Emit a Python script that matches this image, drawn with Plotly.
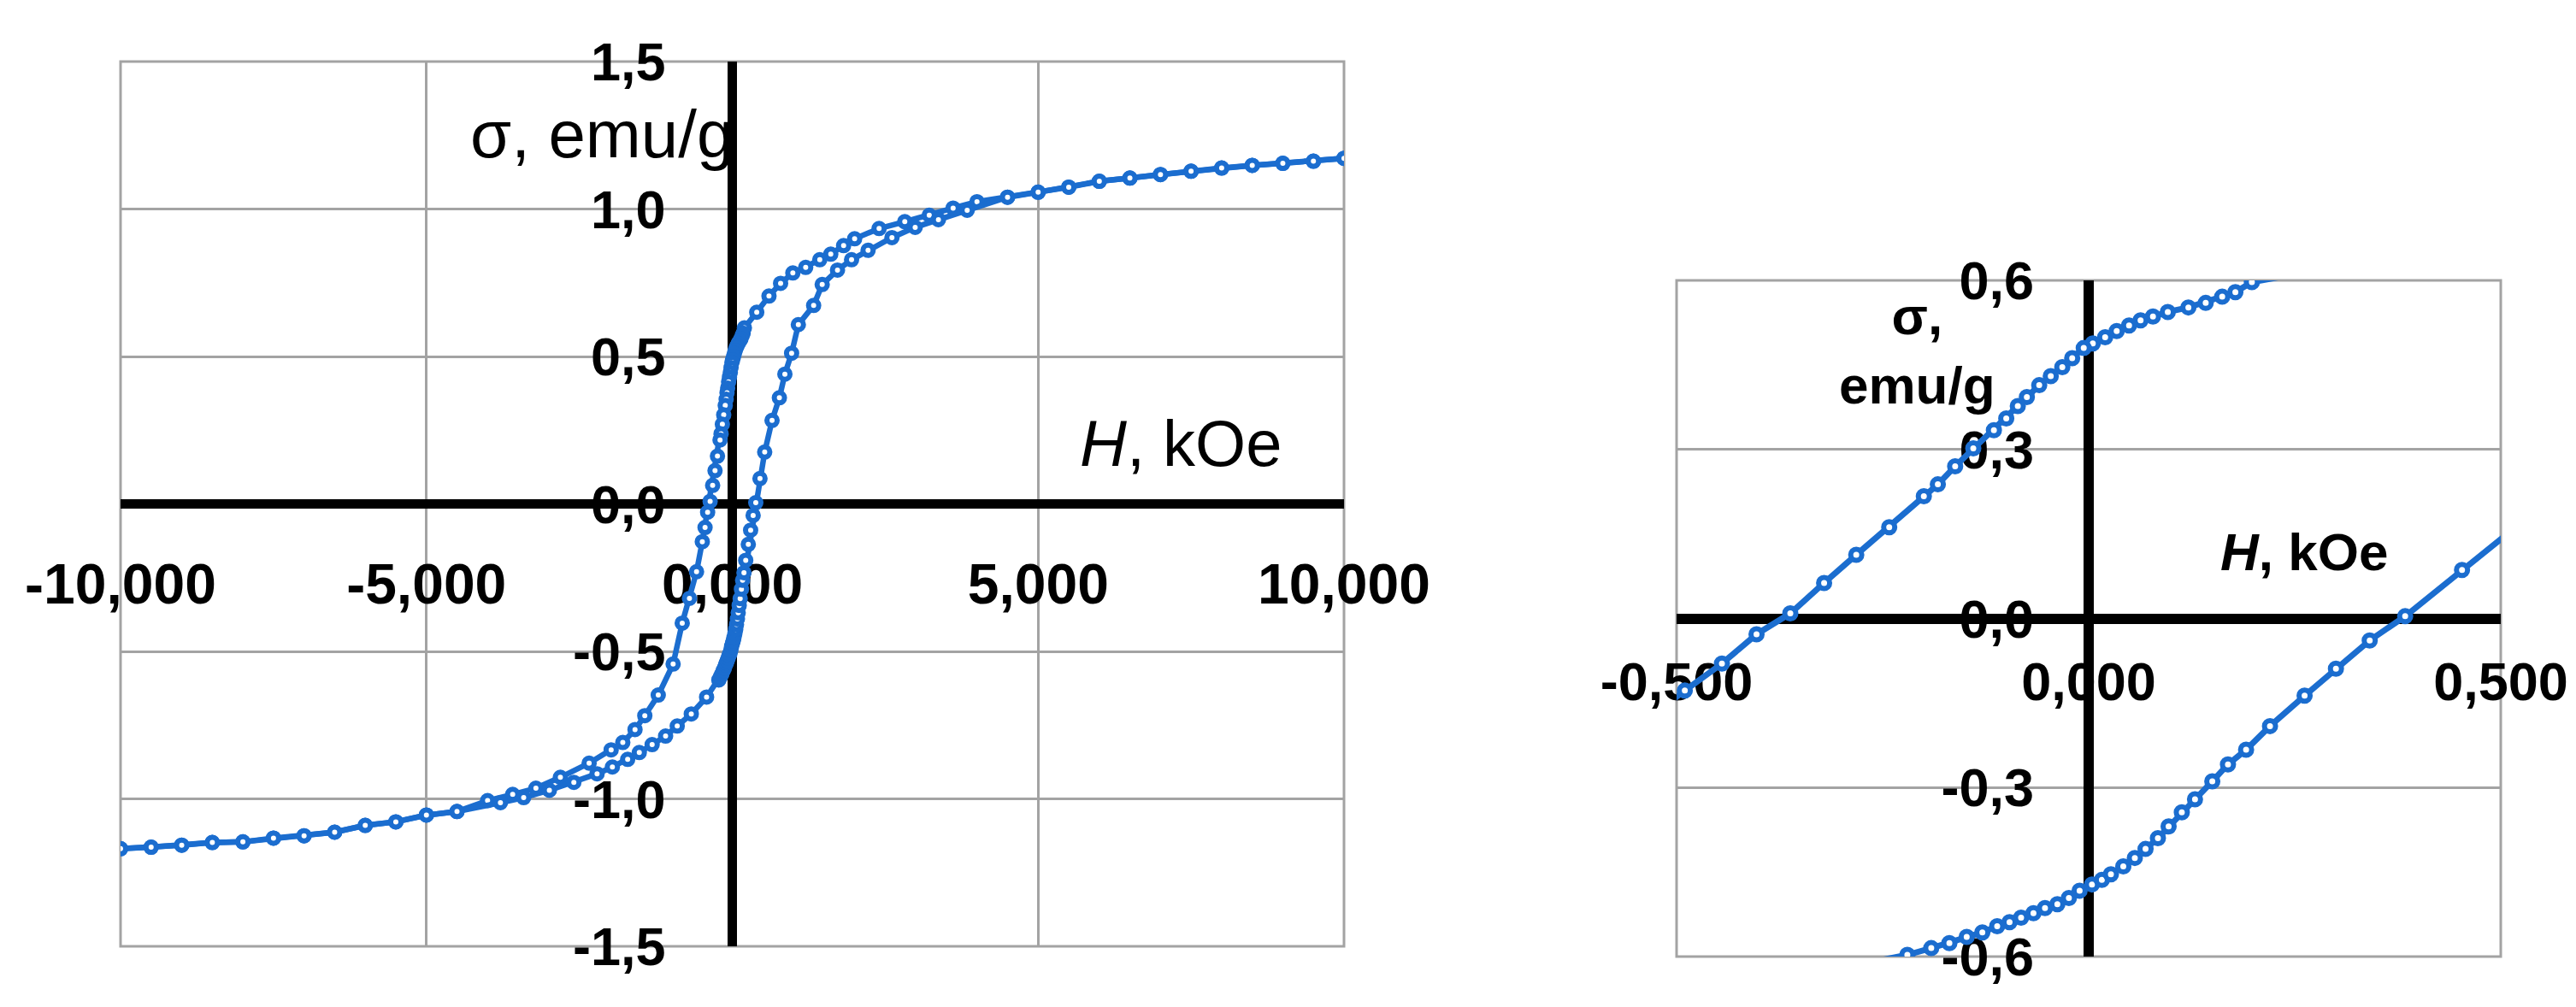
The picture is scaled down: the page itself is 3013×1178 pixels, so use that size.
import plotly.graph_objects as go

# ---------------- data (H in kOe, sigma in emu/g) ----------------
# descending field branch (+10 -> -10 kOe)
H_desc = [10.0, 9.5, 9.0, 8.5, 8.0, 7.5, 7.0, 6.5, 6.0, 5.5, 5.0, 4.5, 4.0,
          3.61, 3.22, 2.82, 2.40, 2.00, 1.82, 1.61, 1.43, 1.20, 0.99, 0.79,
          0.60, 0.40, 0.198, 0.178, 0.162, 0.142, 0.121, 0.096, 0.078, 0.063,
          0.049, 0.034, 0.020, 0.005, -0.006, -0.020, -0.032, -0.046, -0.060,
          -0.075, -0.086, -0.100, -0.115, -0.140, -0.162, -0.183, -0.200,
          -0.242, -0.282, -0.321, -0.362, -0.403, -0.445, -0.49, -0.584,
          -0.70, -0.818, -0.967, -1.21, -1.43, -1.59, -1.79, -1.98, -2.34,
          -2.81, -3.21, -3.59, -4.0, -4.5, -5.0, -5.5, -6.0, -6.5, -7.0,
          -7.5, -8.0, -8.5, -9.0, -9.5, -10.0]
S_desc = [1.172, 1.162, 1.155, 1.148, 1.139, 1.128, 1.117, 1.105, 1.094, 1.074,
          1.057, 1.040, 1.025, 1.003, 0.979, 0.957, 0.934, 0.899, 0.876, 0.847,
          0.828, 0.802, 0.783, 0.748, 0.705, 0.650, 0.597, 0.579, 0.571, 0.560,
          0.552, 0.544, 0.536, 0.529, 0.520, 0.510, 0.499, 0.488, 0.480, 0.462,
          0.446, 0.430, 0.414, 0.393, 0.377, 0.355, 0.334, 0.302, 0.270, 0.238,
          0.217, 0.162, 0.113, 0.063, 0.009, -0.028, -0.080, -0.128, -0.230,
          -0.320, -0.404, -0.543, -0.648, -0.718, -0.765, -0.809, -0.834, -0.879,
          -0.927, -0.964, -0.985, -1.006, -1.043, -1.055, -1.078, -1.090, -1.113,
          -1.125, -1.133, -1.146, -1.148, -1.157, -1.164, -1.169]

# ascending field branch (-10 -> +10 kOe)
H_asc = [-10.0, -9.5, -9.0, -8.5, -8.0, -7.5, -7.0, -6.5, -6.0, -5.5, -5.0, -4.5,
         -3.79, -3.41, -2.99, -2.59, -2.21, -1.96, -1.71, -1.52, -1.31, -1.09,
         -0.90, -0.67, -0.42, -0.220, -0.191, -0.169, -0.148, -0.129, -0.111,
         -0.096, -0.082, -0.067, -0.053, -0.038, -0.024, -0.011, 0.004, 0.016,
         0.027, 0.042, 0.056, 0.069, 0.084, 0.097, 0.113, 0.129, 0.150, 0.169,
         0.191, 0.220, 0.262, 0.300, 0.341, 0.384, 0.453, 0.53, 0.65, 0.77,
         0.86, 0.97, 1.08, 1.33, 1.47, 1.72, 1.95, 2.22, 2.61, 2.99, 3.37,
         3.84, 4.5, 5.0, 5.5, 6.0, 6.5, 7.0, 7.5, 8.0, 8.5, 9.0, 9.5, 10.0]
S_asc = [-1.169, -1.164, -1.157, -1.148, -1.146, -1.133, -1.125, -1.113, -1.090,
         -1.078, -1.055, -1.043, -1.013, -0.996, -0.971, -0.944, -0.915, -0.892,
         -0.866, -0.843, -0.816, -0.787, -0.753, -0.712, -0.655, -0.597, -0.585,
         -0.576, -0.565, -0.557, -0.546, -0.539, -0.531, -0.523, -0.514, -0.507,
         -0.496, -0.483, -0.472, -0.464, -0.454, -0.440, -0.425, -0.409, -0.390,
         -0.369, -0.344, -0.321, -0.289, -0.259, -0.233, -0.191, -0.137, -0.089,
         -0.039, 0.004, 0.086, 0.176, 0.283, 0.360, 0.440, 0.511, 0.608, 0.673,
         0.744, 0.793, 0.828, 0.860, 0.903, 0.938, 0.964, 0.996, 1.040, 1.057,
         1.074, 1.094, 1.105, 1.117, 1.128, 1.139, 1.148, 1.155, 1.162, 1.172]

# tick values
x_ticks_main = [-10, -5, 0, 5, 10]
y_ticks_main = [-1.5, -1.0, -0.5, 0.0, 0.5, 1.0, 1.5]
x_ticks_zoom = [-0.5, 0.0, 0.5]
y_ticks_zoom = [-0.6, -0.3, 0.0, 0.3, 0.6]


def fmt(vals, nd):
    return [f"{v:.{nd}f}".replace(".", ",") for v in vals]


BLUE = "#1b6dcf"
GRID = "#a3a3a3"
FONT = "Liberation Sans"
W, Hh = 3013, 1178

fig = go.Figure()
for H, S in [(H_desc, S_desc), (H_asc, S_asc)]:
    fig.add_trace(go.Scatter(
        x=H, y=S, mode="lines+markers", xaxis="x", yaxis="y",
        line=dict(color=BLUE, width=6.5),
        marker=dict(symbol="circle", size=12, color="white",
                    line=dict(color=BLUE, width=6)),
        hoverinfo="skip"))
for H, S in [(H_desc, S_desc), (H_asc, S_asc)]:
    fig.add_trace(go.Scatter(
        x=H, y=S, mode="lines+markers", xaxis="x2", yaxis="y2",
        line=dict(color=BLUE, width=7),
        marker=dict(symbol="circle", size=13, color="white",
                    line=dict(color=BLUE, width=6)),
        hoverinfo="skip"))

# pixel geometry -> paper fractions
L_x0, L_x1, L_y0, L_y1 = 133, 1564, 64, 1099
R_x0, R_x1, R_y0, R_y1 = 1953, 2917, 320, 1111
L_xaxis_pos = 1 - 582.5 / Hh
L_yaxis_pos = 848.5 / W
R_xaxis_pos = 1 - 715.5 / Hh
R_yaxis_pos = 2435 / W

common = dict(showgrid=True, gridcolor=GRID, gridwidth=3,
              zeroline=True, zerolinecolor="black", showline=False,
              ticks="", tickmode="array", anchor="free", fixedrange=True,
              automargin=False, layer="below traces")

fig.update_layout(
    width=W, height=Hh, margin=dict(l=0, r=0, t=0, b=0, autoexpand=False),
    paper_bgcolor="white", plot_bgcolor="white", showlegend=False,
    font=dict(family=FONT, color="black"),
    xaxis=dict(domain=[L_x0 / W, L_x1 / W], range=[-10, 10],
               tickvals=x_ticks_main, ticktext=fmt(x_ticks_main, 3),
               position=L_xaxis_pos, zerolinewidth=11, ticklabelstandoff=48,
               tickfont=dict(size=66, family=FONT, weight="bold"), **common),
    yaxis=dict(domain=[1 - L_y1 / Hh, 1 - L_y0 / Hh], range=[-1.5, 1.5],
               tickvals=y_ticks_main, ticktext=fmt(y_ticks_main, 1),
               position=L_yaxis_pos, zerolinewidth=11, ticklabelstandoff=78,
               tickfont=dict(size=63, family=FONT, weight="bold"), **common),
    xaxis2=dict(domain=[R_x0 / W, R_x1 / W], range=[-0.5, 0.5],
                tickvals=x_ticks_zoom, ticktext=fmt(x_ticks_zoom, 3),
                position=R_xaxis_pos, zerolinewidth=12, ticklabelstandoff=31,
                tickfont=dict(size=63, family=FONT, weight="bold"), **common),
    yaxis2=dict(domain=[1 - R_y1 / Hh, 1 - R_y0 / Hh], range=[-0.6, 0.6],
                tickvals=y_ticks_zoom, ticktext=fmt(y_ticks_zoom, 1),
                position=R_yaxis_pos, zerolinewidth=12, ticklabelstandoff=64,
                tickfont=dict(size=63, family=FONT, weight="bold"), **common),
)

# plot-area borders (outer grid frame)
for xr, yr in [("x domain", "y domain"), ("x2 domain", "y2 domain")]:
    fig.add_shape(type="rect", xref=xr, yref=yr, x0=0, x1=1, y0=0, y1=1,
                  line=dict(color=GRID, width=3), layer="below")

fig.add_annotation(text="σ, emu/g", xref="x", yref="y", x=0.05, y=1.255,
                   xanchor="right", yanchor="middle", showarrow=False,
                   font=dict(size=78, family=FONT, color="black"))
fig.add_annotation(text="<i>H</i>, kOe", xref="x", yref="y", x=9.02, y=0.205,
                   xanchor="right", yanchor="middle", showarrow=False,
                   font=dict(size=76, family=FONT, color="black"))
fig.add_annotation(text="<b>σ,<br>emu/g</b>", xref="x2", yref="y2", x=-0.208, y=0.476,
                   xanchor="center", yanchor="middle", showarrow=False, align="center",
                   font=dict(size=62, family=FONT, color="black"))
fig.add_annotation(text="<b><i>H</i>, kOe</b>", xref="x2", yref="y2", x=0.261, y=0.118,
                   xanchor="center", yanchor="middle", showarrow=False,
                   font=dict(size=62, family=FONT, color="black"))

fig.write_html("out.html")
